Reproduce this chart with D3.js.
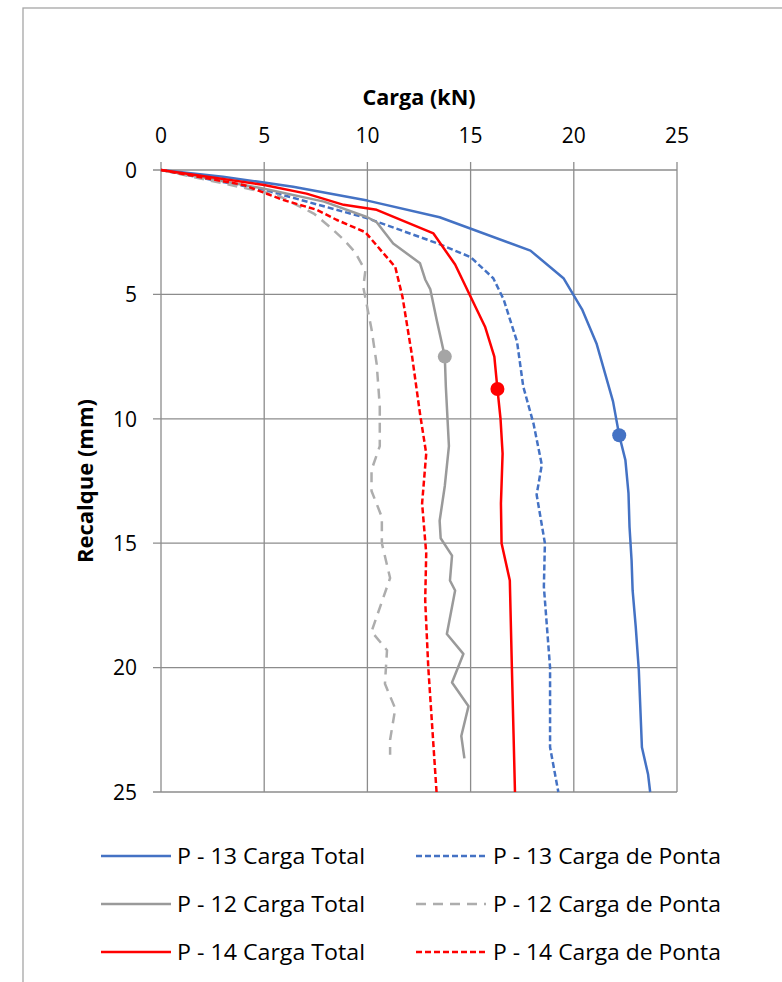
<!DOCTYPE html>
<html>
<head>
<meta charset="utf-8">
<script src="https://cdn.jsdelivr.net/npm/d3@7/dist/d3.min.js"></script>
<style>
  html, body { margin: 0; padding: 0; background: #ffffff; }
  svg { display: block; }
  text { font-family: "Open Sans", "Noto Sans", sans-serif; fill: #000; }
</style>
</head>
<body>
<svg id="chart" width="782" height="982"></svg>
<script>
// ---------- DATA (load kN, settlement mm) ----------
const xTicks = [0, 5, 10, 15, 20, 25];
const yTicks = [0, 5, 10, 15, 20, 25];

const p13TotalLoad   = [0, 3.0, 6.4, 10.0, 13.5, 17.9, 19.5, 20.4, 21.1, 21.9, 22.2, 22.5, 22.65, 22.7, 22.8, 22.85, 23.0, 23.15, 23.3, 23.6, 23.7];
const p13TotalSettle = [0, 0.27, 0.67, 1.23, 1.9, 3.24, 4.35, 5.6, 6.97, 9.3, 10.66, 11.66, 13.0, 14.35, 15.7, 16.9, 18.35, 20.1, 23.2, 24.3, 25.0];

const p13PontaLoad   = [0, 5.0, 10.0, 13.4, 15.0, 16.1, 16.6, 17.25, 17.55, 18.05, 18.45, 18.2, 18.6, 18.55, 18.85, 18.85, 19.25];
const p13PontaSettle = [0, 0.8, 1.94, 2.95, 3.5, 4.35, 5.2, 6.9, 8.7, 10.2, 11.85, 13.05, 15.0, 16.75, 20.0, 23.2, 25.0];

const p12TotalLoad   = [0, 5.0, 7.9, 10.0, 10.45, 11.25, 12.55, 12.8, 13.05, 13.35, 13.75, 13.8, 13.95, 13.75, 13.5, 13.55, 14.1, 14.0, 14.25, 13.85, 14.65, 14.1, 14.9, 14.55, 14.7];
const p12TotalSettle = [0, 0.75, 1.27, 1.9, 2.1, 2.95, 3.75, 4.4, 4.8, 6.0, 7.5, 8.7, 11.1, 12.7, 14.1, 14.8, 15.5, 16.5, 16.9, 18.65, 19.45, 20.6, 21.55, 22.75, 23.65];

const p12PontaLoad   = [0, 5.6, 7.4, 8.2, 8.85, 9.4, 9.9, 9.8, 10.2, 10.45, 10.6, 10.6, 10.2, 10.2, 10.7, 10.7, 11.1, 10.2, 10.95, 10.85, 11.35, 11.1, 11.1];
const p12PontaSettle = [0, 1.0, 1.75, 2.3, 2.8, 3.3, 4.05, 4.7, 6.4, 7.8, 9.5, 11.1, 12.05, 12.9, 13.95, 15.0, 16.4, 18.55, 19.3, 20.65, 21.65, 22.9, 23.5];

const p14TotalLoad   = [0, 5.0, 7.05, 8.85, 10.45, 13.2, 14.25, 15.7, 16.15, 16.3, 16.45, 16.55, 16.47, 16.5, 16.9, 17.0, 17.08, 17.15];
const p14TotalSettle = [0, 0.6, 0.95, 1.4, 1.6, 2.55, 3.8, 6.3, 7.5, 8.8, 10.0, 11.4, 13.4, 15.0, 16.5, 20.0, 22.65, 25.0];

const p14PontaLoad   = [0, 4.0, 5.9, 7.55, 8.5, 9.9, 11.35, 11.7, 12.15, 12.55, 12.85, 12.65, 12.85, 12.8, 12.95, 13.35];
const p14PontaSettle = [0, 0.6, 1.2, 1.6, 2.0, 2.5, 3.9, 5.1, 7.4, 9.8, 11.4, 13.4, 15.4, 17.3, 20.0, 25.0];

// failure-load markers
const markerLoad   = [13.75, 16.3, 22.2];
const markerSettle = [7.5, 8.8, 10.66];

const seriesNames = ["P - 13 Carga Total", "P - 13 Carga de Ponta",
                     "P - 12 Carga Total", "P - 12 Carga de Ponta",
                     "P - 14 Carga Total", "P - 14 Carga de Ponta"];

// ---------- STYLES ----------
const seriesData = [
  [p13TotalLoad, p13TotalSettle], [p13PontaLoad, p13PontaSettle],
  [p12TotalLoad, p12TotalSettle], [p12PontaLoad, p12PontaSettle],
  [p14TotalLoad, p14TotalSettle], [p14PontaLoad, p14PontaSettle]
];
const seriesColor = ["#4472C4", "#4472C4", "#9A9A9A", "#ADADAD", "#FF0000", "#FF0000"];
const seriesDash  = [null, "6,3", null, "10,7", null, "6,3"];
const markerColor = ["#A5A5A5", "#FF0000", "#4472C4"];

const svg = d3.select("#chart");

// outer chart border
svg.append("rect").attr("x", 23).attr("y", 8).attr("width", 800).attr("height", 1000)
  .attr("fill", "#fff").attr("stroke", "#A6A6A6").attr("stroke-width", 1.3);

const x = d3.scaleLinear().domain([0, 25]).range([161, 677]);
const y = d3.scaleLinear().domain([0, 25]).range([170, 792]);

const grid = svg.append("g");
// vertical gridlines + top ticks
grid.selectAll("line.vg").data(xTicks).enter().append("line")
  .attr("x1", d => x(d)).attr("x2", d => x(d))
  .attr("y1", y(0) - 8).attr("y2", y(25))
  .attr("stroke", "#8C8C8C").attr("stroke-width", 1.3);
// horizontal gridlines + left ticks
grid.selectAll("line.hg").data(yTicks).enter().append("line")
  .attr("x1", x(0) - 8).attr("x2", x(25))
  .attr("y1", d => y(d)).attr("y2", d => y(d))
  .attr("stroke", "#8C8C8C").attr("stroke-width", 1.3);

// tick labels
svg.append("g").selectAll("text").data(xTicks).enter().append("text")
  .attr("x", d => x(d)).attr("y", 143)
  .attr("text-anchor", "middle").attr("font-size", 21)
  .text(d => d);
svg.append("g").selectAll("text").data(yTicks).enter().append("text")
  .attr("x", 137).attr("y", d => y(d) + 7.8)
  .attr("text-anchor", "end").attr("font-size", 21)
  .text(d => d);

// axis titles
svg.append("text").attr("x", 419).attr("y", 105)
  .attr("text-anchor", "middle").attr("font-size", 21).attr("font-weight", "bold")
  .attr("textLength", 113).attr("lengthAdjust", "spacingAndGlyphs")
  .text("Carga (kN)");
svg.append("text").attr("transform", "translate(93,481) rotate(-90)")
  .attr("text-anchor", "middle").attr("font-size", 21).attr("font-weight", "bold")
  .attr("textLength", 164).attr("lengthAdjust", "spacingAndGlyphs")
  .text("Recalque (mm)");

// series lines
const line = d3.line().x(d => x(d[0])).y(d => y(d[1]));
const plot = svg.append("g");
seriesData.forEach((s, i) => {
  const pts = s[0].map((v, k) => [v, s[1][k]]);
  plot.append("path").datum(pts)
    .attr("d", line)
    .attr("fill", "none")
    .attr("stroke", seriesColor[i])
    .attr("stroke-width", 2.5)
    .attr("stroke-linejoin", "round")
    .attr("stroke-dasharray", seriesDash[i]);
});

// markers
plot.selectAll("circle").data(markerLoad.map((v, k) => [v, markerSettle[k], markerColor[k]]))
  .enter().append("circle")
  .attr("cx", d => x(d[0])).attr("cy", d => y(d[1])).attr("r", 7)
  .attr("fill", d => d[2]);

// legend
const legRowY = [856, 904, 952];
const legLineX = [[101, 171], [416, 486]];
const legTextX = [177, 493];
const legTextLen = [188, 228];
const leg = svg.append("g");
seriesNames.forEach((name, i) => {
  const col = i % 2, row = Math.floor(i / 2);
  leg.append("line")
    .attr("x1", legLineX[col][0]).attr("x2", legLineX[col][1])
    .attr("y1", legRowY[row]).attr("y2", legRowY[row])
    .attr("stroke", seriesColor[i]).attr("stroke-width", 2.5)
    .attr("stroke-dasharray", seriesDash[i]);
  leg.append("text")
    .attr("x", legTextX[col]).attr("y", legRowY[row] + 8.3)
    .attr("font-size", 21)
    .attr("textLength", legTextLen[col]).attr("lengthAdjust", "spacingAndGlyphs")
    .text(name);
});
</script>
</body>
</html>
